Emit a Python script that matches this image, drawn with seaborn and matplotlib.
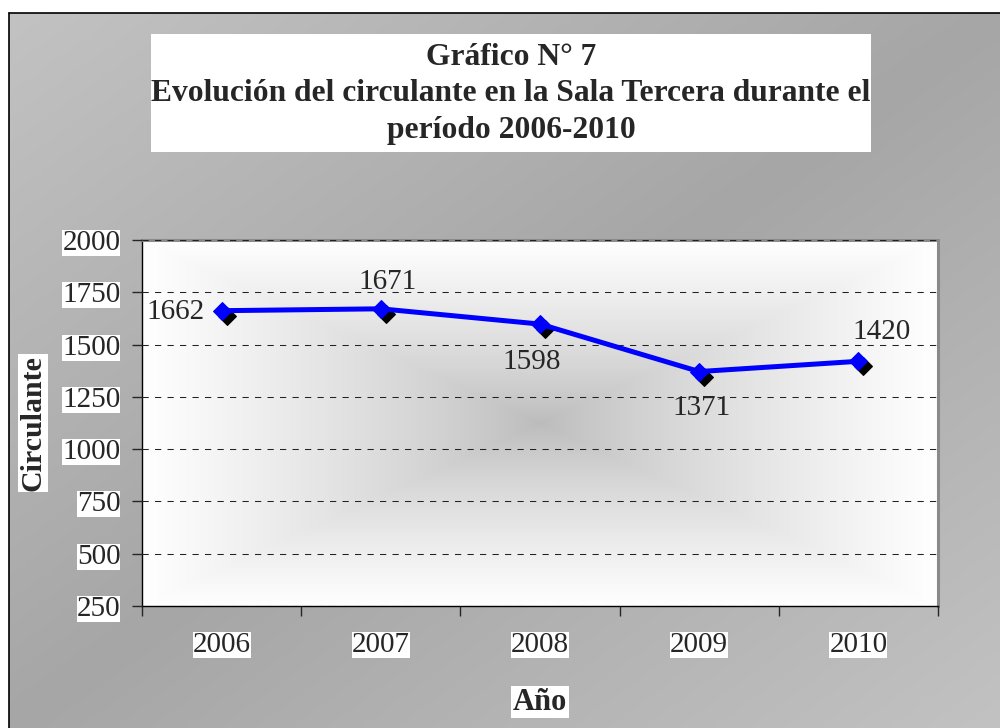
import numpy as np
import matplotlib
matplotlib.use("Agg")
import matplotlib.pyplot as plt
import matplotlib.transforms as mtransforms
from matplotlib.patches import Rectangle
import seaborn as sns

# data
years = ["2006", "2007", "2008", "2009", "2010"]
circulante = [1662, 1671, 1598, 1371, 1420]
yticks = [250, 500, 750, 1000, 1250, 1500, 1750, 2000]
title_lines = ["Gráfico N° 7",
               "Evolución del circulante en la Sala Tercera durante el",
               "período 2006-2010"]
# label offsets (points) relative to each marker, ha
label_pos = [(-12, -1, "right"), (5, 19, "center"), (-6, -27, "center"),
             (1.5, -26, "center"), (17, 21, "center")]

sns.set_style("white")
plt.rcParams["font.family"] = ["Liberation Serif", "DejaVu Serif"]

fig = plt.figure(figsize=(10, 7.28), dpi=100, facecolor="white")

# background axes in pixel coordinates
bg = fig.add_axes([0, 0, 1, 1], zorder=-10)
bg.set_xlim(0, 1000)
bg.set_ylim(728, 0)
bg.axis("off")
gx, gy = np.meshgrid(np.linspace(0, 1, 200), np.linspace(0, 1, 150))
f = np.abs(gx + gy - 1)
g = (0xa6 + (0xc2 - 0xa6) * f) / 255
bg.imshow(np.dstack([g, g, g]), extent=(9, 1000, 728, 13), aspect="auto",
          interpolation="bilinear")
bg.plot([9, 1000], [13, 13], color="black", lw=1.2)
bg.plot([9, 9], [13, 728], color="black", lw=1.2)

# title box
bg.add_patch(Rectangle((151, 34), 720, 118, facecolor="white", edgecolor="none"))
for txt, yb in zip(title_lines, [65, 101, 138]):
    bg.text(511, yb, txt, ha="center", va="baseline", fontsize=22.7,
            fontweight="bold")

# main plot area
ax = fig.add_axes([0.142, 1 - 606 / 728, 0.796, 366 / 728])
ax.set_xlim(-0.5, 4.5)
ax.set_ylim(250, 2000)

u, v = np.meshgrid(np.linspace(-1, 1, 400), np.linspace(-1, 1, 300))
d = np.maximum(np.abs(u), np.abs(v)) ** 0.8
c = (0xbb + (0xff - 0xbb) * d) / 255
ax.imshow(np.dstack([c, c, c]), extent=(-0.5, 4.5, 250, 2000), aspect="auto",
          zorder=0, interpolation="bilinear")

x = np.arange(len(years))
shadow = mtransforms.offset_copy(ax.transData, fig=fig, x=3.6, y=-3.6, units="points")
sns.lineplot(x=x, y=circulante, ax=ax, color="black", linestyle="", marker="D",
             markersize=9.5, markeredgecolor="black", transform=shadow, zorder=3)
sns.lineplot(x=x, y=circulante, ax=ax, color="blue", lw=3.6, marker="D",
             markersize=9.5, markeredgecolor="blue", zorder=4)

for xi, val, (dx, dy, ha) in zip(x, circulante, label_pos):
    ax.annotate(str(val), (xi, val), xytext=(dx, dy), textcoords="offset points",
                ha=ha, va="center", fontsize=21, zorder=5)

# axes styling
ax.set_yticks(yticks)
ax.set_xticks(np.arange(-0.5, 5, 1))
ax.set_xticklabels([])
ax.set_xticks(x, labels=years, minor=True)
ax.tick_params(axis="y", which="major", direction="out", length=7, width=1,
               pad=8.5, labelsize=21, left=True)
ax.tick_params(axis="x", which="major", direction="out", length=7, width=1,
               bottom=True)
ax.tick_params(axis="x", which="minor", length=0, pad=18.5, labelsize=21)
for lbl in ax.get_yticklabels() + ax.get_xticklabels(minor=True):
    lbl.set_bbox(dict(facecolor="white", edgecolor="none", pad=0))

ax.yaxis.grid(True, color="#222222", linestyle=(0, (6, 6)), lw=0.75)
ax.set_axisbelow(False)
for gl in ax.get_ygridlines():
    gl.set_zorder(1)

for side in ["top", "right"]:
    ax.spines[side].set_color("#8a8a8a")
    ax.spines[side].set_linewidth(2.2)
for side in ["left", "bottom"]:
    ax.spines[side].set_color("black")
    ax.spines[side].set_linewidth(1)

ax.set_xlabel("Año", fontsize=22, fontweight="bold", va="center",
              bbox=dict(facecolor="white", edgecolor="none", pad=1))
ax.xaxis.set_label_coords(0.5, -(702 - 606) / 366)
ax.set_ylabel("Circulante", fontsize=21.5, fontweight="bold", va="center",
              bbox=dict(facecolor="white", edgecolor="none", pad=1))
ax.yaxis.set_label_coords((33 - 142) / 796, 0.5)

fig.savefig("out.png", dpi=100)
